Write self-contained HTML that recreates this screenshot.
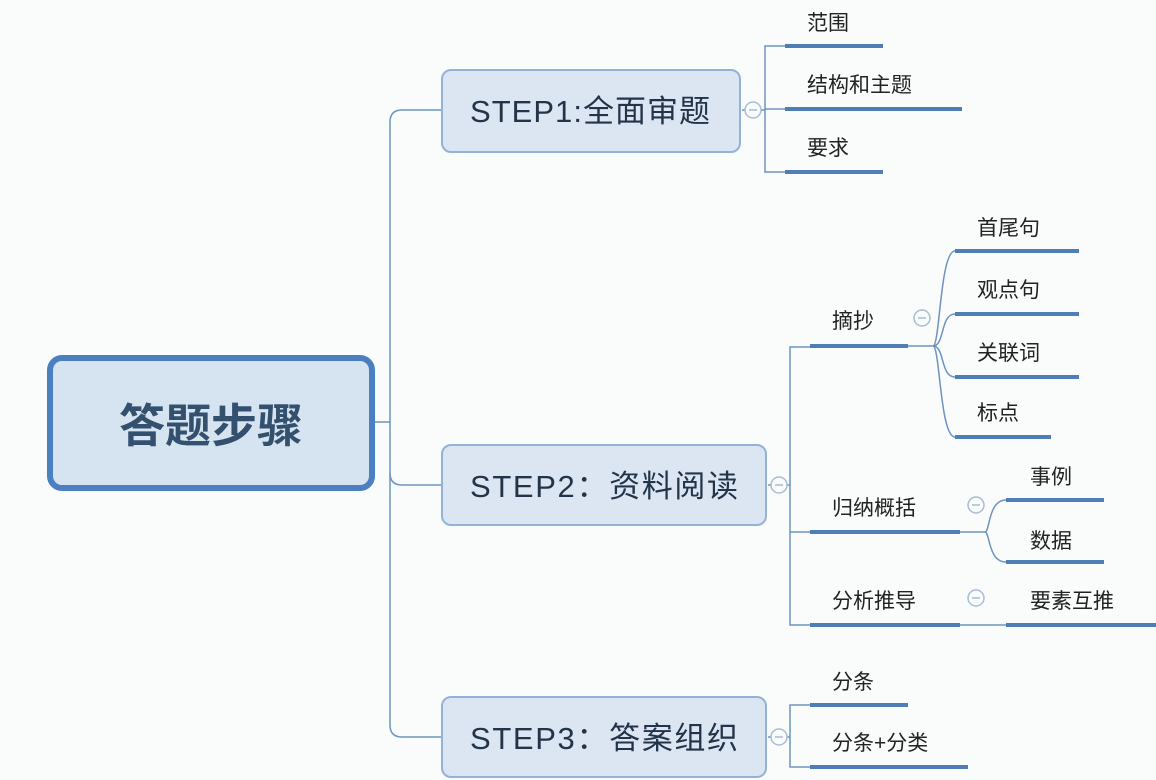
<!DOCTYPE html>
<html><head><meta charset="utf-8"><style>
html,body{margin:0;padding:0;background:#fafcfc;}
svg{display:block;}
text{font-family:"Liberation Sans","Noto Sans CJK SC",sans-serif;fill:#222;}
</style></head><body>
<svg width="1156" height="780" viewBox="0 0 1156 780" xmlns="http://www.w3.org/2000/svg">
<rect width="1156" height="780" fill="#fafcfc"/>
<g fill="none" stroke="#6d93bf" stroke-width="1.5">
<path d="M374 422 H390"/>
<path d="M442 110 H402 Q390 110 390 122 V725 Q390 737 402 737 H442"/>
<path d="M390 473 Q390 485 402 485 H442"/>
<path d="M742 110 H765"/>
<path d="M785 46 H765 V172 H785"/>
<path d="M765 109 H785"/>
<path d="M768 485 H790"/>
<path d="M810 347 H790 V625 H810"/>
<path d="M790 532 H810"/>
<path d="M908 346 H933"/>
<path d="M933 346 C940 346 940 251 955 251"/>
<path d="M933 346 C945 346 940 314 955 314"/>
<path d="M933 346 C945 346 940 377 955 377"/>
<path d="M933 346 C940 346 940 437 955 437"/>
<path d="M960 532 H985"/>
<path d="M985 532 C990 532 988 500 1006 500"/>
<path d="M985 532 C990 532 988 562 1006 562"/>
<path d="M960 625 H1006"/>
<path d="M768 737 H790"/>
<path d="M810 705 H790 V767 H810"/>
</g>
<g stroke="#4f7db5" stroke-width="4">
<path d="M785 46 H883"/><path d="M785 109 H962"/><path d="M785 172 H883"/>
<path d="M810 346 H908"/>
<path d="M955 251 H1079"/><path d="M955 314 H1079"/><path d="M955 377 H1079"/><path d="M955 437 H1051"/>
<path d="M810 532 H960"/><path d="M1006 500 H1104"/><path d="M1006 562 H1104"/>
<path d="M810 625 H960"/><path d="M1006 625 H1156"/>
<path d="M810 705 H908"/><path d="M810 767 H968"/>
</g>
<g fill="#fafcfc" stroke="#a8bdd4" stroke-width="1.5">
<circle cx="753" cy="110" r="8"/><circle cx="779" cy="485" r="8"/><circle cx="779" cy="737" r="8"/>
<circle cx="922" cy="318" r="8"/><circle cx="976" cy="505" r="8"/><circle cx="976" cy="598" r="8"/>
</g>
<g stroke="#a8bdd4" stroke-width="1.5">
<path d="M749 110 H757"/><path d="M775 485 H783"/><path d="M775 737 H783"/>
<path d="M918 318 H926"/><path d="M972 505 H980"/><path d="M972 598 H980"/>
</g>
<rect x="50" y="358" width="322" height="130" rx="12" fill="#d6e3f0" stroke="#4a7fc0" stroke-width="6"/>
<text x="211" y="442" font-size="46" font-weight="bold" text-anchor="middle" style="fill:#33506e">答题步骤</text>
<g fill="#dbe6f2" stroke="#93b3d6" stroke-width="2">
<rect x="442" y="70" width="298" height="82" rx="9"/>
<rect x="442" y="445" width="324" height="80" rx="9"/>
<rect x="442" y="697" width="324" height="80" rx="9"/>
</g>
<g font-size="31" text-anchor="middle">
<text x="590" y="122" textLength="240" style="fill:#23344a">STEP1:全面审题</text>
<text x="604" y="497" textLength="268" style="fill:#23344a">STEP2：资料阅读</text>
<text x="604" y="749" textLength="268" style="fill:#23344a">STEP3：答案组织</text>
</g>
<g font-size="21">
<text x="807" y="30">范围</text>
<text x="807" y="92">结构和主题</text>
<text x="807" y="155">要求</text>
<text x="832" y="328">摘抄</text>
<text x="977" y="235">首尾句</text>
<text x="977" y="297">观点句</text>
<text x="977" y="360">关联词</text>
<text x="977" y="420">标点</text>
<text x="832" y="515">归纳概括</text>
<text x="1030" y="484">事例</text>
<text x="1030" y="548">数据</text>
<text x="832" y="608">分析推导</text>
<text x="1030" y="608">要素互推</text>
<text x="832" y="689">分条</text>
<text x="832" y="750">分条+分类</text>
</g>
</svg>
</body></html>
